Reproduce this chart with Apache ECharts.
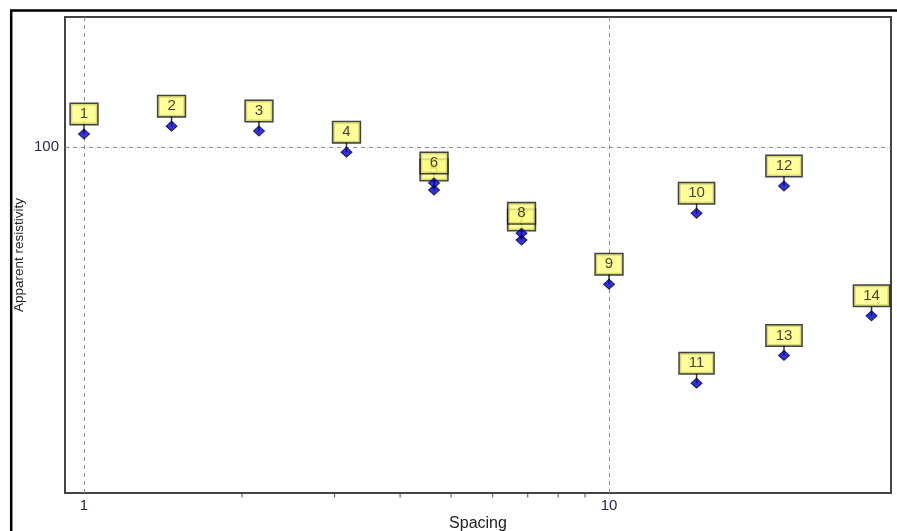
<!DOCTYPE html>
<html>
<head>
<meta charset="utf-8">
<script src="https://cdn.jsdelivr.net/npm/echarts@6/dist/echarts.min.js"></script>
<style>
  html, body { margin: 0; padding: 0; background: #fff; }
  #chart { width: 897px; height: 531px; }
</style>
</head>
<body>
<div id="chart"></div>
<script>
// ---- data ----
const pointLabels = ['1','2','3','4','5','6','7','8','9','10','11','12','13','14'];
const spacing = [1, 1.468, 2.154, 3.162, 4.642, 4.642, 6.813, 6.813, 10, 14.68, 14.68, 21.54, 21.54, 31.62];
const apparentResistivity = [105.9, 109.6, 107.3, 97.8, 82.8, 85.4, 66.5, 68.5, 54.8, 74.8, 35.5, 84.3, 40.1, 47.7];
const xTickLabels = [1, 10];
const yTickLabels = [100];
const xMinorTicks = [2, 3, 4, 5, 6, 7, 8, 9];
const xRange = [0.92, 34.44];
const yRange = [21.93, 176.9];

const pts = spacing.map((x, i) => [x, apparentResistivity[i]]);
const isListed = (v, list) => list.some(t => Math.abs(v - t) / t < 1e-6);

const chart = echarts.init(document.getElementById('chart'), null, { renderer: 'canvas' });
chart.setOption({
  animation: false,
  backgroundColor: '#fff',
  graphic: [{
    type: 'rect', silent: true,
    shape: { x: 11.2, y: 10.5, width: 1000, height: 1000 },
    style: { fill: 'none', stroke: '#000', lineWidth: 2.5 }
  }],
  grid: {
    left: 65, top: 17, right: 6, bottom: 38,
    outerBoundsMode: 'none', containLabel: false,
    show: true, borderColor: '#444', borderWidth: 2, backgroundColor: 'transparent'
  },
  xAxis: {
    type: 'log', logBase: 10, min: xRange[0], max: xRange[1],
    name: 'Spacing', nameLocation: 'middle', nameGap: 23, nameMoveOverlap: false,
    nameTextStyle: { fontFamily: 'Liberation Sans, Arial', fontSize: 16, color: '#222' },
    axisLine: { show: false }, axisTick: { show: false }, splitLine: { show: false },
    axisLabel: {
      margin: 5, fontFamily: 'Liberation Sans, Arial', fontSize: 15, color: '#262650',
      showMinLabel: true, showMaxLabel: true,
      formatter: v => isListed(v, xTickLabels) ? String(Math.round(v)) : ''
    }
  },
  yAxis: {
    type: 'log', logBase: 10, min: yRange[0], max: yRange[1],
    name: 'Apparent resistivity', nameLocation: 'middle', nameGap: 39, nameMoveOverlap: false,
    nameTextStyle: { fontFamily: 'Liberation Sans, Arial', fontSize: 13.5, color: '#222' },
    axisLine: { show: false }, axisTick: { show: false }, splitLine: { show: false },
    axisLabel: {
      margin: 6, fontFamily: 'Liberation Sans, Arial', fontSize: 15, color: '#262650',
      formatter: v => isListed(v, yTickLabels) ? String(Math.round(v)) : ''
    }
  },
  series: [
    {
      name: 'minorTicks', type: 'scatter', silent: true, clip: false, z: 1,
      data: xMinorTicks.map(v => [v, yRange[0]]),
      symbol: 'rect', symbolSize: [1.2, 3.5], symbolOffset: [0, 2.8],
      itemStyle: { color: '#444' },
      markLine: {
        silent: true, symbol: 'none', animation: false,
        label: { show: false },
        lineStyle: { color: '#8a8a8a', type: [4, 4], width: 1 },
        data: xTickLabels.map(v => ({ xAxis: v })).concat(yTickLabels.map(v => ({ yAxis: v })))
      }
    },
    {
      name: 'stems', type: 'scatter', silent: true, clip: false, z: 10,
      data: pts,
      symbol: 'rect', symbolSize: [1.5, 10], symbolOffset: [0, -5],
      itemStyle: { color: '#000' },
      label: {
        show: true, position: 'top', distance: 0,
        formatter: p => pointLabels[p.dataIndex],
        fontFamily: 'Liberation Sans, Arial', fontSize: 15, color: '#111',
        lineHeight: 16,
        backgroundColor: '#ffff80', borderColor: '#111', borderWidth: 1.5,
        padding: [2, 9, 2, 9]
      }
    },
    {
      name: 'points', type: 'scatter', silent: true, clip: false, z: 11,
      data: pts,
      symbol: 'diamond', symbolSize: [11, 10],
      itemStyle: { color: '#0000c8', borderColor: '#00003c', borderWidth: 1 }
    }
  ]
});
</script>
</body>
</html>
